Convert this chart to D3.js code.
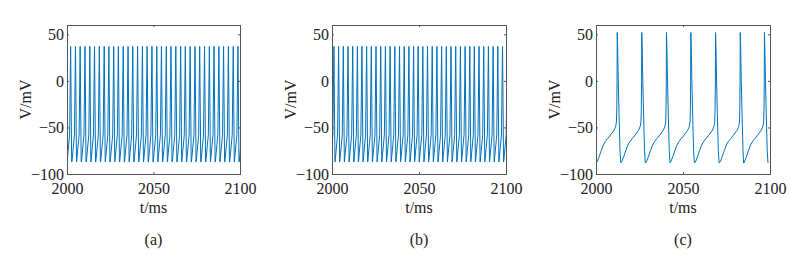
<!DOCTYPE html>
<html>
<head>
<meta charset="utf-8">
<script src="https://cdn.jsdelivr.net/npm/d3@7"></script>
<style>
  body { margin: 0; background: #fff; }
  svg { display: block; }
  svg text { font-family: "Liberation Serif", "DejaVu Serif", serif; }
</style>
</head>
<body>
<div id="chart"></div>
<script>
// Spike peak times (ms); a few lie just outside the window and are clipped
var spikesA = [1999.3, 2002.1, 2004.9, 2007.6, 2010.4, 2013.2, 2015.9, 2018.7, 2021.5, 2024.2,
  2027.0, 2029.7, 2032.5, 2035.3, 2038.0, 2040.8, 2043.6, 2046.3, 2049.1, 2051.9, 2054.6,
  2057.4, 2060.1, 2062.9, 2065.7, 2068.4, 2071.2, 2074.0, 2076.7, 2079.5, 2082.3, 2085.0,
  2087.8, 2090.5, 2093.3, 2096.1, 2098.8, 2101.6];
var spikesB = [1998.4, 2001.1, 2003.8, 2006.5, 2009.2, 2011.9, 2014.6, 2017.2, 2019.9, 2022.6,
  2025.3, 2028.0, 2030.7, 2033.4, 2036.1, 2038.8, 2041.5, 2044.2, 2046.9, 2049.5, 2052.2,
  2054.9, 2057.6, 2060.3, 2063.0, 2065.7, 2068.4, 2071.1, 2073.8, 2076.5, 2079.2, 2081.8,
  2084.5, 2087.2, 2089.9, 2092.6, 2095.3, 2098.0, 2100.7];
var spikesC = [1997.9, 2012.2, 2026.3, 2040.5, 2054.5, 2068.7, 2082.9, 2096.8];

// Spike shape around each peak: time offset from the peak (ms) and voltage (mV)
var fastOffsets = [-2.05, -0.6, 0, 0.6];
var fastVolts   = [-87, -58, 37, -87];
var slowOffsets = [-12.0, -11.3, -10.3, -9.2, -8.0, -6.8, -5.5, -4.2, -3.0, -1.8, -0.9, -0.45, -0.25, -0.1, 0,
  0.2, 0.6, 1.1, 1.6, 2.0, 2.1];
var slowVolts   = [-88, -86, -81, -75, -69, -65, -62, -59, -56, -53, -49, -44, -30, 0, 52,
  40, 0, -40, -75, -87, -88];

var xTicks = [2000, 2050, 2100];
var yTicks = [-100, -50, 0, 50];
var captions = ["(a)", "(b)", "(c)"];

var width = 790, height = 267;
var plotTop = 25, plotBottom = 174;
var lineColor = "#0072BD";
var textColor = "#222";
var fontSize = "16px";

var panels = [
  {left: 67,  right: 240, spikes: spikesA, offs: fastOffsets, volts: fastVolts},
  {left: 332, right: 506, spikes: spikesB, offs: fastOffsets, volts: fastVolts},
  {left: 596, right: 770, spikes: spikesC, offs: slowOffsets, volts: slowVolts}
];

var svg = d3.select("#chart").append("svg")
  .attr("width", width)
  .attr("height", height);

var y = d3.scaleLinear().domain([-100, 60]).range([plotBottom, plotTop]);

panels.forEach(function(p, i) {
  var x = d3.scaleLinear().domain([2000, 2100]).range([p.left, p.right]);

  // build the trace from spike times and the shape template
  var pts = [];
  p.spikes.forEach(function(s) {
    p.offs.forEach(function(o, j) { pts.push([s + o, p.volts[j]]); });
  });
  pts.sort(function(a, b) { return a[0] - b[0]; });

  svg.append("clipPath").attr("id", "clip" + i)
    .append("rect")
    .attr("x", p.left).attr("y", plotTop)
    .attr("width", p.right - p.left).attr("height", plotBottom - plotTop);

  svg.append("path")
    .datum(pts)
    .attr("clip-path", "url(#clip" + i + ")")
    .attr("fill", "none")
    .attr("stroke", lineColor)
    .attr("stroke-width", 1)
    .attr("stroke-linejoin", "round")
    .attr("d", d3.line().x(function(d) { return x(d[0]); }).y(function(d) { return y(d[1]); }));

  // axes, ticks inward (MATLAB style box)
  var tick = function(g) {
    g.select(".domain").remove();
    g.attr("font-family", null);
    g.selectAll(".tick line").attr("stroke", "#555");
    g.selectAll(".tick text").attr("fill", textColor).style("font-size", fontSize);
  };
  svg.append("g").attr("transform", "translate(0," + plotBottom + ")")
    .call(d3.axisBottom(x).tickValues(xTicks).tickSize(-2).tickPadding(9).tickFormat(d3.format("d")))
    .call(tick);
  svg.append("g").attr("transform", "translate(0," + plotTop + ")")
    .call(d3.axisTop(x).tickValues(xTicks).tickSize(-2).tickFormat(""))
    .call(tick);
  svg.append("g").attr("transform", "translate(" + p.left + ",0)")
    .call(d3.axisLeft(y).tickValues(yTicks).tickSize(-2).tickPadding(3))
    .call(tick);
  svg.append("g").attr("transform", "translate(" + p.right + ",0)")
    .call(d3.axisRight(y).tickValues(yTicks).tickSize(-2).tickFormat(""))
    .call(tick);

  svg.append("rect")
    .attr("x", p.left + 0.5).attr("y", plotTop + 0.5)
    .attr("width", p.right - p.left).attr("height", plotBottom - plotTop)
    .attr("fill", "none").attr("stroke", "#555").attr("stroke-width", 1);

  svg.append("text")
    .attr("x", (p.left + p.right) / 2).attr("y", 213)
    .attr("text-anchor", "middle").style("font-size", fontSize).attr("fill", textColor)
    .text("t/ms");

  svg.append("text")
    .attr("transform", "translate(" + (p.left - 42) + "," + ((plotTop + plotBottom) / 2) + ") rotate(-90)")
    .attr("text-anchor", "middle").attr("dy", "0.35em").style("font-size", fontSize).attr("fill", textColor)
    .text("V/mV");

  svg.append("text")
    .attr("x", (p.left + p.right) / 2).attr("y", 245)
    .attr("text-anchor", "middle").style("font-size", fontSize).attr("fill", textColor)
    .text(captions[i]);
});
</script>
</body>
</html>
